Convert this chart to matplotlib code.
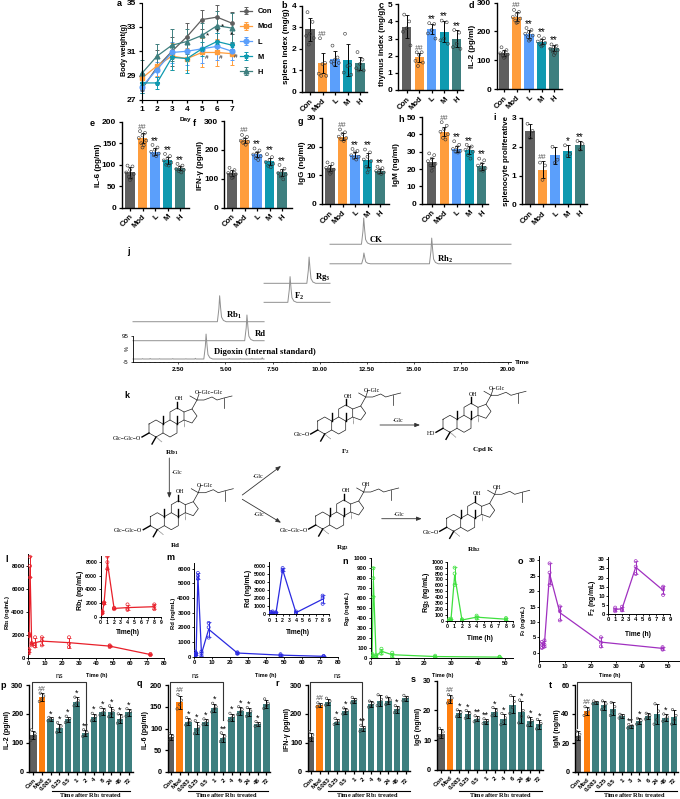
#!/usr/bin/env python

import matplotlib
matplotlib.use('Agg')
matplotlib.rcParams['font.family'] = ['Liberation Sans', 'DejaVu Sans']
matplotlib.rcParams['mathtext.default'] = 'regular'
import matplotlib.pyplot as plt

import numpy as np

W, H = 680, 799

gray = '#5f5f5f'
orange = '#ff9d3c'
orange2 = '#ff7f0e'
blue = '#5b9ffb'
cyan = '#0f9ab0'
teal = '#3e7f7f'
top_colors = [gray, orange, blue, cyan, teal]
bot_colors = [gray, orange2] + [teal]*10

groups = ['Con', 'Mod', 'L', 'M', 'H']

# a, body weight
days = [1, 2, 3, 4, 5, 6, 7]
weight = {
    'Con': ([27.9, 29.7, 31.0, 32.2, 33.6, 33.8, 33.3], [0.3, 1.4, 1.2, 1.1, 0.8, 1.0, 0.9]),
    'Mod': ([28.8, 29.8, 30.6, 30.4, 30.9, 30.9, 30.8], [0.3, 0.8, 1.1, 0.9, 1.2, 1.1, 0.9]),
    'L': ([28.1, 29.5, 30.9, 31.0, 31.2, 31.4, 31.0], [0.4, 0.6, 0.9, 1.1, 1.2, 1.1, 0.7]),
    'M': ([28.4, 28.4, 30.5, 30.4, 31.2, 31.8, 31.5], [0.8, 0.5, 1.0, 1.2, 0.6, 0.7, 0.3]),
    'H': ([29.2, 30.6, 31.5, 31.8, 32.3, 33.1, 32.9], [1.1, 1.0, 1.3, 1.0, 1.0, 1.2, 1.2]),
}

# b-i
b_mean = [2.9, 1.35, 1.55, 1.48, 1.33]
b_sd = [0.55, 0.45, 0.35, 0.76, 0.3]
b_reps = [[3.7, 3.25, 2.7, 2.6, 2.5, 2.2], [2.49, 1.35, 1.3, 0.85, 0.75, 0.75], [2.15, 1.6, 1.5, 1.4, 1.35, 1.3],
          [2.7, 1.25, 1.2, 0.9, 0.8], [1.85, 1.5, 1.3, 1.1, 1.0, 1.0]]
b_sig = ['', '##', '', '', '']

c_mean = [3.7, 1.9, 3.55, 3.4, 3.0]
c_sd = [0.65, 0.25, 0.3, 0.6, 0.5]
c_reps = [[4.4, 4.0, 3.6, 3.4, 2.6], [2.2, 2.2, 2.05, 1.7, 1.6, 1.4], [3.9, 3.85, 3.5, 3.3, 3.0],
          [4.05, 3.95, 3.0, 2.9, 2.7], [3.5, 3.35, 2.7, 2.5, 2.4]]
c_sig = ['', '##', '**', '**', '**']

d_mean = [124, 252, 190, 165, 143]
d_sd = [10, 15, 14, 10, 10]
d_reps = [[145, 135, 128, 124, 120, 115, 112, 108], [275, 268, 258, 250, 245, 238, 232, 230],
          [212, 205, 198, 192, 186, 180, 172, 168], [185, 176, 170, 165, 160, 155, 152, 148],
          [155, 150, 145, 140, 135, 130, 125, 118]]
d_sig = ['', '##', '**', '**', '**']

e_mean = [82, 162, 130, 110, 92]
e_sd = [12, 12, 8, 8, 5]
e_reps = [[98, 96, 88, 82, 78, 72, 68, 64], [178, 174, 168, 162, 156, 150, 145, 140],
          [146, 140, 135, 130, 126, 122, 120], [125, 120, 115, 110, 105, 100, 98],
          [102, 98, 94, 90, 88, 85, 82]]
e_sig = ['', '##', '**', '**', '**']

f_mean = [120, 233, 185, 160, 122]
f_sd = [9, 8, 9, 12, 11]
f_reps = [[138, 130, 124, 120, 116, 112, 106, 102], [252, 245, 238, 232, 228, 224, 218],
          [205, 198, 190, 184, 178, 172, 165], [185, 175, 165, 158, 152, 145, 140],
          [148, 135, 128, 120, 115, 108, 98]]
f_sig = ['', '##', '**', '**', '**']

g_mean = [12.6, 23.5, 17.1, 15.4, 11.6]
g_sd = [1.0, 1.2, 1.0, 2.5, 0.7]
g_reps = [[14.5, 14, 13, 12.6, 12, 11.5, 11, 10.5], [26, 25, 24.5, 23.5, 23, 22.5, 22],
          [19.2, 18.5, 18, 17, 16.5, 16, 15.5], [19, 18, 16.5, 15.5, 15, 13, 12, 11],
          [13, 12.5, 12, 11.5, 11, 10.8, 10.5]]
g_sig = ['', '##', '**', '**', '**']

h_mean = [24, 41.5, 31.5, 31, 21.5]
h_sd = [2.5, 2.7, 1.5, 2.5, 2.0]
h_reps = [[29, 28, 26, 24.5, 23, 22, 21, 19], [47, 45, 43, 41.5, 40, 38, 37],
          [36, 34, 32.5, 31.5, 30.5, 30, 29.5], [34, 33, 32, 31, 30, 28, 26],
          [26, 25, 23, 22, 20.5, 19.5, 19]]
h_sig = ['', '##', '**', '**', '**']

i_mean = [2.55, 1.2, 1.7, 1.85, 2.05]
i_sd = [0.25, 0.3, 0.3, 0.2, 0.15]
i_reps = [[2.8, 2.55, 2.3], [1.45, 1.35, 0.85], [2.0, 1.55, 1.45], [2.05, 1.75, 1.68], [2.2, 2.1, 1.9]]
i_sig = ['', '##', '', '*', '**']

# j, chromatogram traces: start, stop, baseline, peak times, peak heights
trace_start = [0.09, 0.09, 0.09, 7.05, 7.05, 10.55, 10.55]
trace_stop = [7.05, 7.05, 7.05, 10.55, 10.55, 20.16, 20.16]
trace_base = [5.5, 76.7, 150.6, 226, 300, 452, 376]
trace_peak_t = [[3.97], [6.14], [4.69], [8.43], [9.44], [12.34], [12.35, 15.95]]
trace_peak_h = [[97], [100], [101], [100], [102], [102], [42, 100]]
peak_dt = [-0.12, -0.04, 0.0, 0.05, 0.1, 0.2, 0.35]
peak_frac = [0.0, 0.5, 1.0, 0.55, 0.18, 0.05, 0.0]
noise_t = [0.6, 1.0, 1.5, 2.2, 2.9, 3.4, 5.2, 5.8, 6.4, 6.95]
noise_h = [1.5, 2.0, 1.0, 1.5, 1.0, 2.5, 2.0, 1.5, 2.0, 5.0]

# l-o, replicate concentrations
l_t = [0.083, 0.25, 0.5, 1, 2, 4, 8, 24, 48, 72]
l_reps = [[400, 500, 700], [500, 650, 800], [1900, 2000, 2100], [7000, 8000, 8800], [1100, 1250, 1300],
          [1000, 1200, 1800], [1100, 1500, 1800], [950, 1250, 1800], [950, 1050, 1100], [250, 300, 350]]
m_t = [0.083, 0.25, 0.5, 1, 2, 4, 8, 24, 48, 72]
m_reps = [[50, 100, 150], [100, 200, 300], [100, 200, 350], [100, 150, 250], [5300, 5500, 5700],
          [50, 200, 350], [1300, 2000, 2300], [200, 250, 300], [50, 100, 170], [10, 20, 50]]
n_t = [0.25, 0.5, 1, 2, 4, 8, 24, 48]
n_reps = [[5, 10, 30], [5, 15, 40], [610, 800, 900], [5, 15, 30], [40, 65, 90], [10, 30, 50], [5, 10, 20], [3, 5, 10]]
o_t = [1, 2, 4, 8, 24, 48]
o_reps = [[1.5, 2.5, 3.5], [2, 2.6, 4], [22, 26, 29], [10.5, 13.5, 15], [2, 3.3, 5], [1, 1.4, 1.8]]

# p-t
p_mean = [127, 258, 182, 152, 181, 242, 133, 188, 208, 208, 183, 205]
p_sd = [15, 14, 6, 14, 10, 15, 10, 12, 12, 17, 15, 12]
p_reps = [[145, 132, 122, 108], [272, 262, 252, 243], [188, 184, 180, 176], [170, 158, 148, 136],
          [192, 184, 176, 170], [258, 246, 238, 228], [145, 136, 128, 122], [202, 192, 184, 176],
          [222, 212, 204, 196], [228, 212, 200, 190], [200, 190, 178, 168], [218, 208, 200, 192]]
p_sig = ['', '##', '*', '*', '*', '*', '**', '*', '*', '*', '*', '*']
p_lab = ['Con', 'Mod', '0.083', '0.25', '0.5', '1', '2', '4', '8', '24', '48', '72']

q_mean = [80, 160, 116, 101, 115, 148, 79, 126, 141, 138, 110, 156]
q_sd = [7, 15, 7, 13, 6, 9, 9, 8, 9, 9, 5, 10]
q_reps = [[88, 82, 78, 72], [178, 165, 155, 145], [125, 118, 113, 108], [118, 104, 96, 88],
          [122, 117, 113, 109], [158, 150, 145, 138], [90, 82, 76, 70], [135, 128, 124, 118],
          [150, 144, 138, 132], [148, 140, 135, 128], [116, 111, 108, 105], [168, 158, 152, 146]]
q_sig = ['', '##', '*', '*', '*', '*', '**', '*', '*', '*', '*', '']

r_mean = [120, 230, 241, 173, 209, 247, 149, 233, 246, 245, 216, 254]
r_sd = [14, 6, 12, 10, 10, 9, 10, 10, 18, 12, 12, 9]
r_reps = [[138, 126, 114, 106], [238, 232, 228, 224], [254, 244, 236, 230], [184, 176, 170, 163],
          [220, 212, 205, 199], [257, 250, 243, 238], [160, 152, 146, 139], [244, 236, 228, 223],
          [266, 250, 238, 228], [258, 248, 240, 232], [228, 220, 212, 204], [264, 257, 250, 245]]
r_sig = ['', '##', '', '*', '*', '', '**', '', '', '', '*', '']

s_mean = [12.2, 23.8, 19, 18.7, 17.2, 16.4, 19.6, 17, 22, 19.5, 16.3, 15.3]
s_sd = [1.5, 1.4, 1.1, 1.2, 0.9, 0.8, 1.3, 1.7, 3, 3.8, 1.4, 1.6]
s_reps = [[14, 12.8, 11.5, 10.8], [25.3, 24.2, 23.3, 22.5], [20.2, 19.4, 18.6, 17.9], [20, 19, 18.2, 17.4],
          [18.2, 17.5, 16.8, 16.2], [17.2, 16.6, 16, 15.6], [21, 20, 19, 18.2], [19, 17.5, 16.2, 15.2],
          [25, 23, 21, 19], [23.5, 20, 18, 15.8], [17.8, 16.6, 15.8, 14.9], [17, 15.6, 14.8, 13.8]]
s_sig = ['', '##', '*', '*', '**', '**', '*', '*', '', '*', '*', '*']
s_lab = ['Con', 'Mod', '0.083', '0.25', '0.5', '1', '2', '4', '6', '24', '48', '72']

t_mean = [25, 42, 48, 46, 43.5, 38.5, 31.5, 35, 38.5, 40, 37.5, 38]
t_sd = [3, 3, 1, 3, 4.5, 1.2, 1.2, 2, 2, 7, 2.5, 5]
t_reps = [[28, 26, 24, 22], [45, 43, 41, 39], [49, 48, 47.5, 47], [49, 47, 45, 43], [48, 45, 42, 39],
          [39.8, 38.8, 38, 37.2], [32.8, 31.8, 31, 30.3], [37, 35.5, 34, 33], [40.5, 39, 38, 36.5],
          [47, 42, 36, 33], [40, 38, 36.5, 35], [43, 39, 36, 33]]
t_sig = ['', '##', '', '', '', '', '**', '*', '', '', '*', '']
t_lab = ['Con', 'Mod', '0.083', '0.25', '0.5', '1', '3', '4', '6', '24', '48', '72']


fig = plt.figure(figsize=(W/100, H/100), dpi=100)

# overlay in image pixels for labels, brackets and the scheme
ov = fig.add_axes([0, 0, 1, 1], zorder=20)
ov.set_xlim(0, W)
ov.set_ylim(H, 0)
ov.axis('off')


def px_axes(x0, x1, ybot, ytop):
    ax = fig.add_axes([x0/W, 1-ybot/H, (x1-x0)/W, (ybot-ytop)/H])
    ax.patch.set_alpha(0)
    ax.spines[['top', 'right']].set_visible(False)
    return ax


def label(x, y, s, size=6.5, weight='bold', rot=0, **kw):
    ov.text(x, y, s, fontsize=size, fontweight=weight, rotation=rot, ha=kw.pop('ha', 'center'),
            va=kw.pop('va', 'center'), **kw)


def bar_panel(x0, x1, ybot, ytop, c0, step, ymax, yticks, names, mean, sd, reps, colors, sig,
              tsize=5.6, ysize=6.0, rsize=4.5, ssize=7):
    ax = px_axes(x0, x1, ybot, ytop)
    xs = np.arange(len(mean))
    ax.bar(xs, mean, width=0.74, color=colors)
    ax.errorbar(xs, mean, yerr=sd, fmt='none', ecolor='black', elinewidth=0.7, capsize=1.3, capthick=0.6)
    spread = [-0.2, 0.2, 0.0, -0.3, 0.3, -0.1, 0.1, 0.0]
    for i, vals in enumerate(reps):
        off = [spread[j % len(spread)] for j in range(len(vals))]
        ax.scatter(i+np.array(off), vals, s=rsize, facecolors='none', edgecolors='#333333', linewidths=0.4, zorder=5)
        top = max(max(vals), mean[i]+sd[i])
        if sig[i]:
            if '#' in sig[i]:
                ax.text(i, top+ymax*0.005, sig[i], ha='center', va='bottom', fontsize=ssize-1.5, color='#555555',
                        style='italic', clip_on=False)
            else:
                ax.text(i, top-ymax*0.01, sig[i], ha='center', va='bottom', fontsize=ssize, clip_on=False)
    ax.set_xlim((x0-c0)/step, (x1-c0)/step)
    ax.set_ylim(0, ymax)
    ax.set_yticks(yticks)
    ax.set_xticks(xs)
    ax.set_xticklabels(names, rotation=45, ha='right', rotation_mode='anchor', fontweight='bold', fontsize=tsize)
    for t in ax.get_yticklabels():
        t.set_fontweight('bold')
        t.set_fontsize(ysize)
    ax.tick_params(length=2.5, width=0.9, pad=1.5)
    ax.spines[['left', 'bottom']].set_linewidth(1.0)
    return ax


def pk_panel(x0, x1, ybot, ytop, xlim, ylim, xticks, yticks, t, reps, color, size=4.2):
    ax = px_axes(x0, x1, ybot, ytop)
    reps = np.array(reps, dtype=float)
    mean = reps.mean(axis=1)
    sd = reps.std(axis=1, ddof=1)
    ax.plot(t, mean, color=color, lw=0.9)
    ax.errorbar(t, mean, yerr=sd, fmt='none', ecolor=color, elinewidth=0.7, capsize=1.2, capthick=0.5)
    for i in range(len(t)):
        ax.scatter([t[i]]*reps.shape[1], reps[i], s=5, facecolors='none', edgecolors=color, linewidths=0.5, zorder=4)
    ax.set_xlim(*xlim)
    ax.set_ylim(*ylim)
    ax.set_xticks(xticks)
    ax.set_yticks(yticks)
    for t_ in ax.get_xticklabels()+ax.get_yticklabels():
        t_.set_fontweight('bold')
        t_.set_fontsize(size)
    ax.tick_params(length=1.5, width=0.6, pad=1)
    ax.spines[['left', 'bottom']].set_linewidth(0.7)
    return ax


# a
ax = px_axes(142, 232, 100, 2.5)
for name, col, mk in zip(groups, top_colors, ['o', 's', 'o', '*', '^']):
    mean, err = weight[name]
    ms = 3.4 if name != 'Con' else 2.4
    ax.errorbar(days, mean, yerr=err, color=col, marker=mk, ms=ms, lw=0.9, elinewidth=0.7, capsize=1.5,
                capthick=0.7, label=name, clip_on=False)
ax.set_xlim(1, 7)
ax.set_ylim(27, 35)
ax.set_xticks(days)
ax.set_yticks([27, 29, 31, 33, 35])
for t in ax.get_xticklabels()+ax.get_yticklabels():
    t.set_fontweight('bold')
    t.set_fontsize(6)
ax.tick_params(length=2.5, width=0.9, pad=1.5)
handles, labs = ax.get_legend_handles_labels()
leg = ax.legend(handles, labs, loc='upper left', bbox_to_anchor=(240/W, 1-8/H), bbox_transform=fig.transFigure,
                frameon=False, prop={'weight': 'bold', 'size': 5.4}, handlelength=1.6, labelspacing=1.05,
                handletextpad=0.8, borderpad=0, borderaxespad=0)
label(124, 50, 'Body weight(g)', 5.2, rot=90)
label(185, 120, 'Day', 4.6)
for x, y, s in zip([6.0, 5.35, 6.35, 6.95], [32.55, 32.3, 33.0, 32.35], ['*', '*', '*', '*']):
    ax.text(x, y, s, fontsize=6, ha='center', va='center', clip_on=False)
for x, y in zip([5.3, 6.25, 7.25], [30.5, 30.5, 30.6]):
    ax.text(x, y, '#', fontsize=4.5, style='italic', ha='center', va='center', clip_on=False)

# b-i
bar_panel(302, 367, 92, 5.7, 310, 12.5, 4, [0, 1, 2, 3, 4], groups, b_mean, b_sd, b_reps, top_colors, b_sig)
bar_panel(398, 463, 90, 4.3, 406.7, 12.5, 5, [0, 1, 2, 3, 4, 5], groups, c_mean, c_sd, c_reps, top_colors, c_sig)
bar_panel(496.7, 562, 89, 2.7, 504, 12.5, 300, [0, 100, 200, 300], groups, d_mean, d_sd, d_reps, top_colors, d_sig)
bar_panel(121.7, 189, 207.7, 121.7, 130, 12.5, 200, [0, 50, 100, 150, 200], groups, e_mean, e_sd, e_reps, top_colors, e_sig)
bar_panel(224, 291.7, 207.7, 121, 232, 12.5, 300, [0, 100, 200, 300], groups, f_mean, f_sd, f_reps, top_colors, f_sig)
bar_panel(321.7, 389, 204, 118, 330, 12.5, 30, [0, 10, 20, 30], groups, g_mean, g_sd, g_reps, top_colors, g_sig)
bar_panel(421.7, 488, 203.7, 117, 431.7, 12.5, 50, [0, 10, 20, 30, 40, 50], groups, h_mean, h_sd, h_reps, top_colors, h_sig)
bar_panel(521.7, 586.7, 204.3, 118, 530, 12.5, 3, [0, 1, 2, 3], groups, i_mean, i_sd, i_reps, top_colors, i_sig)

label(287, 46, 'spleen index (mg/g)', 5.8, rot=90)
label(383, 47, 'thymus index (mg/g)', 5.8, rot=90)
label(472, 46, 'IL-2 (pg/ml)', 5.8, rot=90)
label(98, 165, 'IL-6 (pg/ml)', 5.8, rot=90)
label(200, 165, 'IFN-γ (pg/ml)', 5.8, rot=90)
label(302, 163, 'IgG (ng/ml)', 5.8, rot=90)
label(397, 165, 'IgM (ng/ml)', 5.8, rot=90)
label(506, 161, 'splenocyte proliferative', 5.8, rot=90)

# j
ax = px_axes(133, 511, 361.7, 336)
for start, stop, base, pt, ph in zip(trace_start, trace_stop, trace_base, trace_peak_t, trace_peak_h):
    xs = [start]
    ys = [base]
    for tp, hp in zip(pt, ph):
        for dt, fr in zip(peak_dt, peak_frac):
            xs.append(tp+dt)
            ys.append(base+hp*fr)
    xs.append(stop)
    ys.append(base)
    if base == trace_base[0]:
        for nt, nh in zip(noise_t, noise_h):
            xs += [nt-0.03, nt, nt+0.03]
            ys += [base, base+nh, base]
        order = np.argsort(xs)
        xs = np.array(xs)[order]
        ys = np.array(ys)[order]
    ax.plot(xs, ys, color='#909090', lw=0.7, clip_on=False)
ax.set_xlim(0.09, 20.16)
ax.set_ylim(-5, 95)
ax.set_xticks([2.5, 5, 7.5, 10, 12.5, 15, 17.5, 20])
ax.set_xticklabels(['2.50', '5.00', '7.50', '10.00', '12.50', '15.00', '17.50', '20.00'], fontweight='bold', fontsize=4.6)
ax.set_xticks(np.arange(0.5, 20.16, 0.25), minor=True)
ax.set_yticks([-5, 95])
ax.set_yticklabels(['-5', '95'], fontsize=4.5)
ax.tick_params(length=1.5, width=0.5, pad=2)
ax.tick_params(which='minor', length=1, width=0.3)
ax.spines[['left', 'bottom']].set_linewidth(0.6)
label(127, 348.5, '%', 4, 'normal', rot=90)
label(522, 363, 'Time', 4.6)
sf = {'family': 'Liberation Serif'}
label(376, 240, 'CK', 6.2, **sf)
label(445, 259, 'Rh$_2$', 6.2, **sf)
label(323, 277, 'Rg$_3$', 6.2, **sf)
label(299, 296, 'F$_2$', 6.2, **sf)
label(234, 315, 'Rb$_1$', 6.2, **sf)
label(260, 334, 'Rd', 6.2, **sf)
label(265, 352, 'Digoxin (Internal standard)', 6.2, **sf)

# k, scheme drawn in pixels, geometry relative to Rb1
rings = [
    [(149, 39), (156, 35), (163, 39), (163, 48), (156, 52), (149, 48), (149, 39)],
    [(163, 39), (170, 35), (177, 39), (177, 48), (170, 52), (163, 48)],
    [(170, 35), (170, 27), (177, 23), (184, 27), (184, 35), (177, 39)],
    [(184, 27), (192, 24), (197, 31), (192, 38), (184, 35)],
    [(192, 24), (197, 15), (204, 15), (212, 12), (217, 15), (224, 13), (232, 11)],
    [(224, 13), (224, 23)],
    [(197, 15), (190, 11)],
    [(197, 15), (199, 9)],
]
wedges = [[(163, 39), (163, 31)], [(177, 39), (177, 31)], [(177, 23), (177, 17)], [(149, 48), (142, 52)], [(156, 52), (152, 59)]]
hashes = [[(184, 35), (184, 42)], [(156, 52), (162, 57)]]


def steroid(dx, dy, left, right):
    for seg in rings:
        ov.plot([p[0]+dx for p in seg], [p[1]+dy+385 for p in seg], color='#222222', lw=0.5)
    for seg in wedges:
        ov.plot([p[0]+dx for p in seg], [p[1]+dy+385 for p in seg], color='black', lw=1.0)
    for seg in hashes:
        ov.plot([p[0]+dx for p in seg], [p[1]+dy+385 for p in seg], color='#444444', lw=0.5, ls=(0, (1, 0.7)))
    label(179+dx, 14+dy+385, 'OH', 4.2, 'normal', **sf)
    label(141+dx, 53+dy+385, left, 4.2, 'normal', ha='right', **sf)
    label(195+dx, 8+dy+385, right, 4.2, 'normal', ha='left', **sf)


steroid(0, 0, 'Glc−Glc−O', 'O−Glc−Glc')
steroid(168.7, -3, 'Glc−O', 'O−Glc')
steroid(294, -4.7, 'HO', 'O−Glc')
steroid(1.3, 92.7, 'Glc−Glc−O', 'O−Glc')
steroid(166.7, 92, 'Glc−Glc−O', 'OH')
steroid(297.7, 94.3, 'Glc−O', 'OH')
label(172, 453, 'Rb$_1$', 5, **sf)
label(345, 451.7, 'F$_2$', 5, **sf)
label(483, 450, 'Cpd K', 5, **sf)
label(175, 545.7, 'Rd', 5, **sf)
label(342.7, 547, 'Rg$_3$', 5, **sf)
label(474, 550, 'Rh$_2$', 5, **sf)
for (x0, y0, x1, y1), (tx, ty) in zip(
        [(169.3, 458, 169.3, 498), (242.3, 495, 281, 466), (242.3, 499.3, 281, 522.7), (380, 425, 420, 425), (381.7, 518.7, 421.7, 518.7)],
        [(177, 473), (258, 477), (259, 515), (398, 420), (399, 514)]):
    ov.annotate('', xy=(x1, y1), xytext=(x0, y0),
                arrowprops=dict(arrowstyle='-|>,head_width=0.12,head_length=0.3', color='#333333', lw=0.6, shrinkA=0, shrinkB=0))
    label(tx, ty, '-Glc', 4.2, 'normal', **sf)

# l
ticks5 = list(range(0, 90, 10))
pk_panel(28.3, 164, 658, 554, (0, 80), (0, 9040), ticks5, [0, 2000, 4000, 6000, 8000], l_t, l_reps, '#e8202a')
pk_panel(100.7, 161, 616.7, 556, (0, 9), (0, 8900), list(range(10)), [0, 2000, 4000, 6000, 8000], l_t[:7], l_reps[:7], '#e8202a', size=3.8)
label(7, 612, 'Rb$_1$ (ng/mL)', 4.2, rot=90)
label(81, 590, 'Rb$_1$ (ng/mL)', 5.0, rot=90)
label(128, 633, 'Time(h)', 4.8)
label(97, 675, 'Time (h)', 4.0)

# m
pk_panel(194.3, 338, 656.7, 563, (0, 80), (0, 6380), ticks5, list(range(0, 7000, 1000)), m_t, m_reps, '#2a2ae0')
pk_panel(269.3, 329.3, 614.3, 562, (0, 9), (0, 6450), list(range(10)), list(range(0, 7000, 1000)), m_t[1:7], m_reps[1:7], '#2a2ae0', size=3.8)
label(174, 613, 'Rd (ng/mL)', 4.2, rot=90)
label(249, 588, 'Rd (ng/mL)', 5.0, rot=90)
label(298, 633, 'Time(h)', 4.8)
label(266, 675, 'Time (h)', 4.0)

# n
pk_panel(370.7, 513, 657.7, 558.3, (0, 53), (0, 1000), [0, 10, 20, 30, 40, 50], list(range(0, 1100, 100)), n_t, n_reps, '#3fe03f')
pk_panel(447.3, 513.3, 621, 561.7, (0, 9), (0, 1000), list(range(10)), list(range(0, 1100, 100)), n_t[:6], n_reps[:6], '#3fe03f', size=3.8)
label(347, 608, 'Rg$_3$ (ng/mL)', 4.2, rot=90)
label(427, 592, 'Rg$_3$ (ng/mL)', 5.0, rot=90)
label(480, 638, 'Time (h)', 4.8)
label(443, 675, 'Time (h)', 4.0)

# o
pk_panel(539.3, 679, 660.7, 556, (0, 54.4), (-2.6, 31.4), [0, 10, 20, 30, 40, 50], [0, 5, 10, 15, 20, 25, 30], o_t, o_reps, '#a030c0')
pk_panel(608.3, 670, 614, 557, (0, 9), (0, 31.3), list(range(10)), [0, 5, 10, 15, 20, 25, 30], o_t[:4], o_reps[:4], '#a030c0')
label(523, 620, 'F$_2$ (ng/mL)', 4.2, rot=90)
label(592.5, 598, 'F$_2$ (ng/mL)', 5.0, rot=90)
label(638, 635, 'Time (h)', 4.8)
label(610, 675, 'Time (h)', 4.0)

# p-t
kw = dict(tsize=4.5, ysize=5.3, rsize=3.0, ssize=6.5)
bar_panel(29, 133, 771.7, 685, 33.3, 8.67, 300, [0, 100, 200, 300], p_lab, p_mean, p_sd, p_reps, bot_colors, p_sig, **kw)
bar_panel(167.7, 270, 772, 685, 171, 8.67, 200, [0, 50, 100, 150, 200], p_lab, q_mean, q_sd, q_reps, bot_colors, q_sig, **kw)
bar_panel(307.7, 410, 771.3, 685, 311, 8.6, 300, [0, 100, 200, 300], p_lab, r_mean, r_sd, r_reps, bot_colors, r_sig, **kw)
bar_panel(436.7, 543, 770, 680.7, 441.3, 8.9, 30, [0, 10, 20, 30], s_lab, s_mean, s_sd, s_reps, bot_colors, s_sig, **kw)
bar_panel(575, 678, 772, 685, 578, 8.75, 60, [0, 20, 40, 60], t_lab, t_mean, t_sd, t_reps, bot_colors, t_sig, **kw)

label(8, 730, 'IL-2 (pg/ml)', 5.0, rot=90)
label(145.7, 730, 'IL-6 (pg/ml)', 5.0, rot=90)
label(287.7, 729, 'IFN-γ (pg/ml)', 5.0, rot=90)
label(419, 726, 'IgG (ng/ml)', 5.0, rot=90)
label(557.7, 728, 'IgM (ng/ml)', 5.0, rot=90)

for x0, x1, y0, y1, ns in [(32.3, 85.7, 728, 729, 59), (170, 223, 733, 720, 195), (310, 362, 730, 725, 337), (577, 630.7, 728, 722, None)]:
    ov.plot([x0, x0, x1, x1], [y0, 682, 682, y1], color='#333333', lw=0.8)
    if ns:
        label(ns, 677, 'ns', 5.0, 'normal')

for x0, x1, xt in [(51.7, 130, 90), (188, 268, 226.7), (328, 410, 367.7), (459, 541.7, 500), (595, 676.7, 634)]:
    ov.plot([x0, x1], [790.5, 790.5], color='black', lw=0.8)
    label(xt, 795.5, 'Time after Rb$_1$ treated', 4.5, **sf)

# panel letters
letters = ['a', 'b', 'c', 'd', 'e', 'f', 'g', 'h', 'i', 'j', 'k', 'l', 'm', 'n', 'o', 'p', 'q', 'r', 's', 't']
letter_x = [119, 284, 381, 471, 92, 194, 300, 401, 495, 128, 127, 7, 170, 345, 520, 3, 139, 277, 413, 550]
letter_y = [4, 5, 5, 5, 123, 123, 122, 120, 118, 252, 395, 560, 558, 561, 562, 685, 684, 684, 680, 686]
for s, x, y in zip(letters, letter_x, letter_y):
    label(x, y, s, 6.5)

fig.savefig('out.png', dpi=100)
